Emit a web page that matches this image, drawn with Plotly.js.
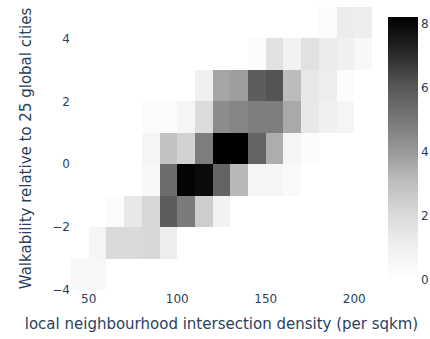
<!DOCTYPE html>
<html>
<head>
<meta charset="utf-8">
<script src="https://cdn.plot.ly/plotly-3.0.1.min.js"></script>
<style>html,body{margin:0;padding:0;background:#fff;}#chart{width:430px;height:339px;}</style>
</head>
<body>
<div id="chart"></div>
<script>
// Bin centres: intersection density (per sqkm), bins of 10
const densityBins = [45, 55, 65, 75, 85, 95, 105, 115, 125, 135, 145, 155, 165, 175, 185, 195, 205];
// Bin centres: walkability, bins of 1
const walkBins = [-3.5, -2.5, -1.5, -0.5, 0.5, 1.5, 2.5, 3.5, 4.5];

// Counts per row (bottom row first), columns follow densityBins
const rowM35 = [0.5, 0.5, 0, 0, 0, 0, 0, 0, 0, 0, 0, 0, 0, 0, 0, 0, 0];
const rowM25 = [0, 0.7, 2.0, 2.0, 2.1, 1.1, 0, 0, 0, 0, 0, 0, 0, 0, 0, 0, 0];
const rowM15 = [0, 0, 0.3, 1.4, 2.1, 5.8, 4.9, 2.5, 0.9, 0, 0, 0, 0, 0, 0, 0, 0];
const rowM05 = [0, 0, 0, 0, 0.5, 5.3, 8.1, 7.9, 5.6, 3.2, 0.7, 0.7, 0.4, 0, 0, 0, 0];
const rowP05 = [0, 0, 0, 0, 0.7, 2.9, 2.3, 4.8, 8.2, 8.2, 5.6, 3.5, 0.7, 0.2, 0, 0, 0];
const rowP15 = [0, 0, 0, 0, 0.3, 0.3, 0.7, 1.9, 4.4, 4.6, 4.8, 4.8, 3.6, 1.4, 1.0, 0.7, 0];
const rowP25 = [0, 0, 0, 0, 0, 0, 0, 1.0, 3.7, 3.9, 5.8, 6.1, 3.1, 1.4, 1.1, 0.2, 0];
const rowP35 = [0, 0, 0, 0, 0, 0, 0, 0, 0, 0, 0.3, 1.7, 0.9, 1.7, 1.2, 1.0, 0.5];
const rowP45 = [0, 0, 0, 0, 0, 0, 0, 0, 0, 0, 0, 0, 0, 0, 0.3, 1.2, 1.1];

const zRows = [rowM35, rowM25, rowM15, rowM05, rowP05, rowP15, rowP25, rowP35, rowP45];

const greys = [
  [0, 'rgb(255,255,255)'], [0.125, 'rgb(240,240,240)'], [0.25, 'rgb(217,217,217)'],
  [0.375, 'rgb(189,189,189)'], [0.5, 'rgb(150,150,150)'], [0.625, 'rgb(115,115,115)'],
  [0.75, 'rgb(82,82,82)'], [0.875, 'rgb(37,37,37)'], [1, 'rgb(0,0,0)']
];

const trace = {
  type: 'heatmap',
  x: densityBins,
  y: walkBins,
  z: zRows,
  colorscale: greys,
  zmin: 0,
  colorbar: {tickfont: {color: '#2a3f5f', size: 12}, outlinewidth: 0}
};

const axisFont = {color: '#2a3f5f', size: 12};
const layout = {
  width: 430, height: 339,
  margin: {l: 71, r: 58, t: 7, b: 49, autoexpand: false},
  paper_bgcolor: '#fff', plot_bgcolor: '#fff',
  font: {family: '"DejaVu Sans", verdana, arial, sans-serif', color: '#2a3f5f'},
  xaxis: {
    range: [40, 210], showgrid: false, zeroline: false, ticks: '',
    tickfont: axisFont,
    title: {text: 'local neighbourhood intersection density (per sqkm)', standoff: 13, font: {size: 15, color: '#2a3f5f'}}
  },
  yaxis: {
    range: [-4, 5], showgrid: false, zeroline: false, ticks: '', dtick: 2,
    tickfont: axisFont,
    title: {text: 'Walkability relative to 25 global cities', font: {size: 15, color: '#2a3f5f'}}
  }
};

Plotly.newPlot('chart', [trace], layout, {displayModeBar: false, staticPlot: true});
</script>
</body>
</html>
